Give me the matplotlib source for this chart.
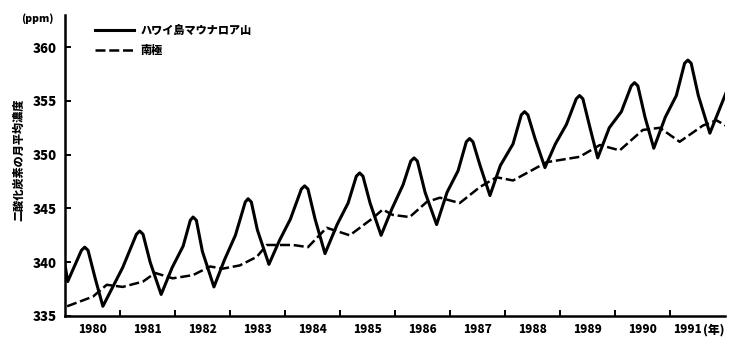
import numpy as np
import matplotlib
matplotlib.use("Agg")
import matplotlib.pyplot as plt
import matplotlib.transforms as mtransforms
from matplotlib.ticker import FixedLocator, NullFormatter

plt.rcParams['font.family'] = ['Noto Sans CJK JP', 'DejaVu Sans']

# ハワイ島マウナロア山 (year, ppm)
mlo_t = [1980.00, 1980.05, 1980.30, 1980.36, 1980.42, 1980.55, 1980.69, 1980.85, 1981.05, 1981.30,
         1981.36, 1981.42, 1981.55, 1981.75, 1981.95, 1982.15, 1982.28, 1982.33, 1982.39, 1982.50,
         1982.71, 1982.90, 1983.10, 1983.28, 1983.33, 1983.39, 1983.50, 1983.71, 1983.90, 1984.10,
         1984.30, 1984.36, 1984.42, 1984.55, 1984.73, 1984.95, 1985.15, 1985.30, 1985.36, 1985.42,
         1985.55, 1985.75, 1985.95, 1986.15, 1986.29, 1986.35, 1986.41, 1986.55, 1986.76, 1986.95,
         1987.15, 1987.30, 1987.36, 1987.42, 1987.55, 1987.73, 1987.92, 1988.15, 1988.30, 1988.36,
         1988.42, 1988.55, 1988.73, 1988.92, 1989.12, 1989.30, 1989.36, 1989.42, 1989.55, 1989.69,
         1989.90, 1990.12, 1990.30, 1990.36, 1990.42, 1990.55, 1990.71, 1990.92, 1991.12, 1991.27,
         1991.33, 1991.39, 1991.52, 1991.73, 1992.02]
mlo_v = [339.8, 338.2, 341.1, 341.4, 341.1, 338.5, 335.9, 337.5, 339.5, 342.6,
         342.9, 342.6, 340.0, 337.0, 339.5, 341.5, 343.9, 344.2, 343.9, 341.0,
         337.7, 340.2, 342.5, 345.6, 345.9, 345.6, 343.0, 339.8, 342.0, 344.0,
         346.8, 347.1, 346.8, 344.0, 340.8, 343.5, 345.5, 348.0, 348.3, 348.0,
         345.5, 342.5, 345.0, 347.2, 349.4, 349.7, 349.4, 346.5, 343.5, 346.5,
         348.5, 351.2, 351.5, 351.2, 349.0, 346.2, 349.0, 351.0, 353.7, 354.0,
         353.7, 351.5, 348.8, 351.0, 352.8, 355.2, 355.5, 355.2, 352.5, 349.7,
         352.5, 354.0, 356.4, 356.7, 356.4, 353.5, 350.6, 353.5, 355.5, 358.5,
         358.8, 358.5, 355.5, 352.0, 355.7]

# 南極
spo_t = [1980.04, 1980.51, 1980.76, 1981.05, 1981.42, 1981.64, 1981.96, 1982.33, 1982.64, 1982.87,
         1983.18, 1983.49, 1983.67, 1984.15, 1984.42, 1984.76, 1985.18, 1985.60, 1985.78, 1985.96,
         1986.27, 1986.58, 1986.82, 1987.18, 1987.55, 1987.85, 1988.15, 1988.51, 1988.76, 1989.00,
         1989.36, 1989.73, 1990.09, 1990.51, 1990.82, 1991.18, 1991.60, 1991.85, 1992.02]
spo_v = [335.9, 336.8, 337.9, 337.7, 338.2, 339.0, 338.5, 338.8, 339.6, 339.4,
         339.7, 340.5, 341.6, 341.6, 341.4, 343.2, 342.5, 344.1, 344.9, 344.4,
         344.2, 345.6, 346.0, 345.5, 347.0, 347.9, 347.6, 348.6, 349.3, 349.5,
         349.8, 350.9, 350.4, 352.3, 352.5, 351.2, 352.7, 353.2, 352.7]

years = list(range(1980, 1992))
year_labels = [str(y) for y in years]
year_unit = '(年)'
yticks = [335, 340, 345, 350, 355, 360]

fig = plt.figure(figsize=(7.38, 3.39), dpi=100)
ax = fig.add_axes([0.088, 0.068, 0.894, 0.888])

ax.plot(mlo_t, mlo_v, color='black', lw=2.2, solid_joinstyle='round')
ax.plot(spo_t, spo_v, color='black', lw=1.8, linestyle=(0, (4, 1.5)))

ax.set_xlim(1980, 1992)
ax.set_ylim(335, 363)

for s in ['top', 'right']:
    ax.spines[s].set_visible(False)
for s in ['left', 'bottom']:
    ax.spines[s].set_linewidth(1.8)

# year boundaries as ticks, labels centred in each year
ax.xaxis.set_major_locator(FixedLocator(range(1981, 1992)))
ax.xaxis.set_major_formatter(NullFormatter())
ax.tick_params(axis='x', which='major', direction='in', length=4, width=1.4)
trans = mtransforms.blended_transform_factory(ax.transData, ax.transAxes)
for y, lab in zip(years[:-1], year_labels[:-1]):
    ax.text(y + 0.5, -0.057, lab, transform=trans, ha='center', va='baseline',
            fontsize=8.5, fontweight='black')
# last year carries the unit
ax.text(years[-1] + 0.58, -0.057, year_labels[-1], transform=trans, ha='right',
        va='baseline', fontsize=8.5, fontweight='black')
ax.text(years[-1] + 0.6, -0.057, year_unit, transform=trans, ha='left',
        va='baseline', fontsize=8.5, fontweight='black')

ax.set_yticks(yticks)
ax.tick_params(axis='y', direction='in', length=4, width=1.4, pad=6, labelsize=9.5)
for lab in ax.get_yticklabels():
    lab.set_fontweight('black')

fig.text(0.028, 0.935, '(ppm)', fontsize=7.5, fontweight='black')
fig.text(0.025, 0.53, '二酸化炭素の月平均濃度', rotation=90, fontsize=8,
         fontweight='black', ha='center', va='center')

# legend
ax.plot([0.045, 0.105], [0.95, 0.95], transform=ax.transAxes, color='black', lw=2.2)
ax.plot([0.045, 0.105], [0.885, 0.885], transform=ax.transAxes, color='black', lw=1.8,
        linestyle=(0, (4, 1.5)))
ax.text(0.115, 0.95, 'ハワイ島マウナロア山', transform=ax.transAxes, fontsize=8,
        fontweight='black', va='center')
ax.text(0.115, 0.885, '南極', transform=ax.transAxes, fontsize=8,
        fontweight='black', va='center')

fig.savefig('out.png', dpi=100)
